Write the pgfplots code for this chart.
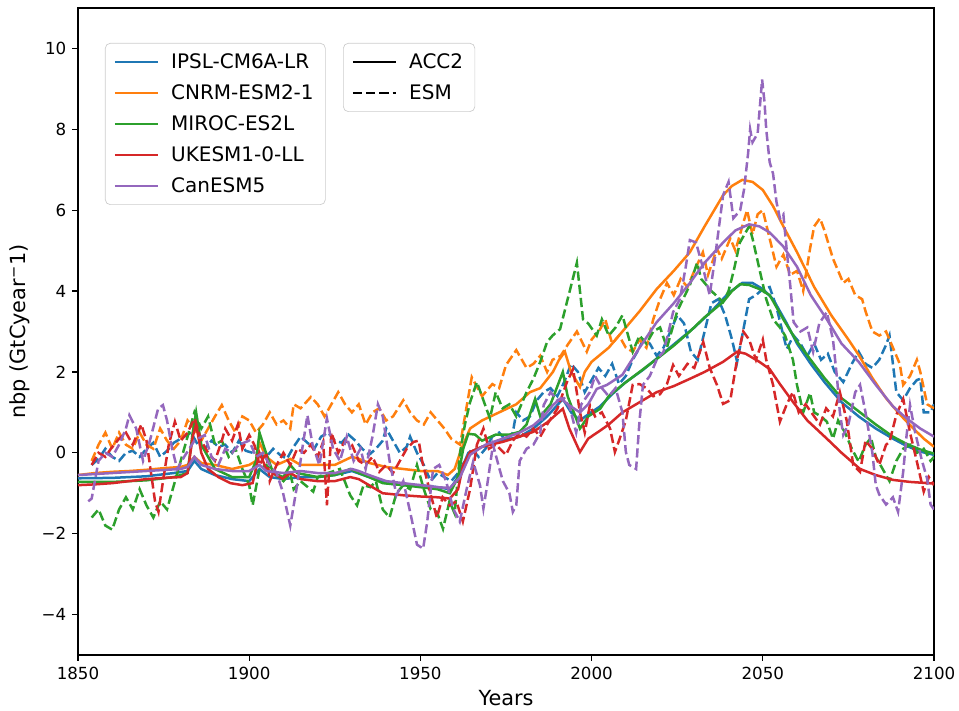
\documentclass[border=0pt]{standalone}
\usepackage{fontspec}
\setmainfont{DejaVu Sans}
\usepackage{pgfplots}
\pgfplotsset{compat=1.18}
\definecolor{c0}{HTML}{1F77B4}
\definecolor{c1}{HTML}{FF7F0E}
\definecolor{c2}{HTML}{2CA02C}
\definecolor{c3}{HTML}{D62728}
\definecolor{c4}{HTML}{9467BD}
\tikzset{esm/.style={line width=1.5pt, dash pattern=on 5.55pt off 2.4pt},
         acc/.style={line width=1.5pt, solid}}
\begin{document}
\begin{tikzpicture}
\begin{axis}[
  scale only axis, width=513.6pt, height=388.2pt,
  xmin=1850, xmax=2100, ymin=-5, ymax=11,
  xtick={1850,1900,1950,2000,2050,2100},
  ytick={-4,-2,0,2,4,6,8,10},
  yticklabels={−4,−2,0,2,4,6,8,10},
  /pgf/number format/set thousands separator={},
  /pgf/number format/assume math mode=true,
  tick label style={font=\fontsize{10}{12}\selectfont},
  tick align=outside, major tick length=3.5pt,
  xtick pos=bottom, ytick pos=left,
  axis line style={line width=0.8pt},
  every tick/.style={black, line width=0.8pt},
  xlabel={Years}, ylabel={nbp (GtCyear\textsuperscript{\char"2212}1)},
  label style={font=\fontsize{12.5}{15}\selectfont},
  legend image code/.code={\draw[#1] (0pt,0pt) -- (26pt,0pt); \path (0pt,0pt) (31pt,0pt);},
  legend style={at={(0.0315,0.946)}, anchor=north west, draw=black!20, rounded corners=3pt,
    font=\fontsize{12}{14.4}\selectfont, row sep=4.2pt, inner xsep=5pt, inner ysep=4pt},
  legend cell align=left,
]
% ---- IPSL-CM6A-LR ----
\addplot[c0, esm, forget plot] coordinates {
(1854,-0.3)(1856,-0.15)(1858,0.1)(1860,-0.1)(1862,-0.2)(1864,0.0)(1866,0.05)(1868,-0.1)(1870,0.1)(1872,0.25)(1874,-0.1)(1876,0.05)(1878,0.25)(1880,0.35)(1883,0.5)(1885,0.2)(1887,0.1)(1889,0.3)(1891,0.15)(1893,0.2)(1895,0.0)(1897,0.3)(1899,0.05)(1901,0.0)(1903,-0.05)(1905,-0.1)(1907,0.1)(1909,-0.05)(1911,-0.15)(1913,0.15)(1915,0.4)(1917,0.25)(1919,0.1)(1921,0.4)(1923,0.5)(1925,0.3)(1927,0.25)(1929,0.45)(1931,0.3)(1933,0.1)(1935,-0.05)(1937,0.1)(1939,0.3)(1940,0.6)(1942,0.3)(1944,0.0)(1946,0.15)(1947,0.4)(1949,0.0)(1951,-0.3)(1953,-0.7)(1955,-0.5)(1957,-0.6)(1959,-0.7)(1961,-0.5)(1963,-0.2)(1965,0.1)(1967,-0.1)(1969,0.1)(1971,0.4)(1973,0.5)(1975,0.3)(1977,0.5)(1978,1.0)(1980,0.8)(1982,0.9)(1984,1.3)(1986,1.5)(1988,1.6)(1990,1.4)(1992,1.75)(1994,2.2)(1996,2.0)(1998,1.5)(2000,1.8)(2002,2.1)(2004,1.9)(2006,2.2)(2008,1.7)(2010,1.9)(2012,2.3)(2014,2.6)(2015,2.8)(2017,2.7)(2019,2.4)(2021,2.6)(2023,3.0)(2025,3.4)(2027,3.2)(2029,2.5)(2031,2.3)(2033,3.0)(2035,3.7)(2037,3.8)(2039,3.4)(2041,2.8)(2042.5,2.25)(2044,2.9)(2046,3.8)(2048,3.9)(2050,4.05)(2052,4.1)(2054,3.6)(2056,2.9)(2057,2.57)(2059,2.9)(2061,2.7)(2063,2.4)(2065,2.7)(2067,2.3)(2069,2.45)(2071,2.0)(2073.5,1.75)(2076,2.2)(2078,2.5)(2080,2.2)(2082,2.1)(2084,2.3)(2086,2.67)(2087,2.9)(2089,1.5)(2091,1.3)(2093,1.6)(2095,1.8)(2096,1.83)(2097,1.0)(2099,1.0)(2100,1.2)};
\addplot[c0, acc, forget plot] coordinates {
(1850,-0.63)(1860,-0.62)(1870,-0.58)(1878,-0.5)(1882,-0.45)(1884,-0.2)(1886,-0.4)(1890,-0.55)(1895,-0.65)(1900,-0.7)(1903,-0.4)(1906,-0.6)(1910,-0.65)(1915,-0.6)(1920,-0.6)(1925,-0.55)(1930,-0.45)(1935,-0.6)(1940,-0.75)(1945,-0.8)(1950,-0.8)(1955,-0.85)(1958.6,-0.9)(1961,-0.6)(1964,0.0)(1968,0.15)(1974,0.3)(1979,0.4)(1983,0.6)(1987,0.9)(1991.6,1.33)(1994,1.0)(1996.6,0.8)(1999,0.95)(2002.5,1.15)(2006,1.45)(2010,1.75)(2015,2.05)(2020,2.4)(2025,2.75)(2030,3.1)(2035,3.5)(2040,3.95)(2044,4.2)(2047,4.2)(2050,4.05)(2053,3.8)(2057,3.2)(2060,2.7)(2064,2.2)(2068,1.75)(2073,1.25)(2078,0.9)(2083,0.6)(2088,0.35)(2092,0.17)(2096,0.03)(2100,-0.05)};
% ---- CNRM-ESM2-1 ----
\addplot[c1, esm, forget plot] coordinates {
(1854,-0.2)(1856,0.2)(1858,0.5)(1860,0.1)(1862,0.5)(1864,0.2)(1866,0.1)(1868,0.5)(1870,0.2)(1872,0.1)(1874,0.6)(1876,0.3)(1878,0.1)(1880,0.3)(1882,0.8)(1884,0.6)(1886,0.3)(1888,0.6)(1890,0.9)(1892,1.18)(1894,0.8)(1896,0.5)(1898,0.9)(1900,0.8)(1902,0.5)(1904,0.7)(1906,1.0)(1908,0.7)(1910,0.8)(1912,0.6)(1913,1.2)(1915,1.1)(1918,1.38)(1920,1.2)(1922,0.9)(1924,1.2)(1926,1.5)(1928,1.2)(1930,1.0)(1932,1.2)(1934,0.7)(1936,1.0)(1938,1.1)(1940,0.8)(1942,0.9)(1945,1.3)(1947,1.0)(1949,0.8)(1951,0.7)(1953,1.0)(1955,0.8)(1957,0.6)(1959,0.35)(1961.6,0.2)(1963,0.9)(1965,1.87)(1968,1.4)(1971,1.7)(1973,1.6)(1975,2.17)(1978,2.54)(1981,2.1)(1983,2.2)(1985,2.4)(1987,2.0)(1988.6,2.3)(1991,2.4)(1993,2.67)(1995.7,3.0)(1998.6,2.5)(2000,2.8)(2002.5,3.06)(2004,3.3)(2006,2.7)(2008,2.9)(2010,2.6)(2012,2.5)(2014,2.8)(2016,2.6)(2018,3.3)(2020,3.8)(2022,4.2)(2024,3.9)(2026,4.3)(2028,4.1)(2030,4.5)(2032.5,4.96)(2034,4.4)(2036.6,5.05)(2038,4.8)(2040.5,5.3)(2042,5.0)(2044,5.6)(2045.4,6.0)(2047,5.4)(2048.5,5.9)(2050,6.0)(2052,5.3)(2054,4.6)(2056,4.9)(2058,4.4)(2060,4.5)(2061.8,4.0)(2063.8,5.05)(2065,5.6)(2066.7,5.8)(2068,5.5)(2070.5,4.8)(2073.5,4.2)(2075,4.3)(2077,3.9)(2079,3.8)(2080,3.5)(2082,3.0)(2084,2.9)(2086,3.0)(2088,2.6)(2090,2.2)(2091,1.68)(2093,1.9)(2095,2.3)(2096,2.0)(2098,1.2)(2100,1.1)};
\addplot[c1, acc, forget plot] coordinates {
(1850,-0.55)(1855,-0.5)(1860,-0.47)(1865,-0.45)(1870,-0.42)(1875,-0.38)(1880,-0.35)(1882,-0.3)(1884,-0.1)(1886,-0.25)(1890,-0.3)(1895,-0.4)(1900,-0.3)(1902,-0.2)(1903,0.25)(1905,-0.1)(1908,-0.3)(1912,-0.15)(1915,-0.3)(1920,-0.3)(1925,-0.3)(1930,-0.1)(1932,-0.15)(1935,-0.25)(1940,-0.35)(1945,-0.4)(1950,-0.45)(1955,-0.45)(1958,-0.55)(1960,-0.4)(1962,0.1)(1964.5,0.6)(1968,0.8)(1973,1.0)(1978,1.2)(1982,1.5)(1985,1.6)(1988.7,2.0)(1990.5,2.3)(1992.2,2.5)(1994,2.0)(1996.6,1.63)(1998,2.0)(2000,2.25)(2005,2.6)(2009,3.0)(2014,3.5)(2019,4.05)(2024,4.5)(2028.7,4.96)(2033,5.6)(2038.4,6.37)(2041,6.6)(2044,6.75)(2047,6.7)(2050,6.5)(2053,6.1)(2056,5.6)(2060,4.96)(2065,4.1)(2070,3.4)(2075,2.8)(2078,2.42)(2082,1.85)(2086,1.35)(2090,0.95)(2094,0.6)(2097,0.35)(2100,0.15)};
% ---- MIROC-ES2L ----
\addplot[c2, esm, forget plot] coordinates {
(1854,-1.6)(1856,-1.4)(1858,-1.8)(1860,-1.9)(1862,-1.4)(1864,-1.1)(1866,-1.4)(1868,-0.9)(1870,-1.3)(1872,-1.6)(1874,-1.2)(1876,-1.4)(1878,-0.8)(1880,-0.2)(1882,0.4)(1884,1.0)(1886,0.6)(1888,0.9)(1890,0.2)(1892,0.3)(1894,-0.1)(1896,0.1)(1898,-0.4)(1900,-0.8)(1901,-1.3)(1903,-0.4)(1905,-0.3)(1907,-0.5)(1910,-0.7)(1912,-0.5)(1913,-0.9)(1915,-0.7)(1918.7,-0.96)(1920,-0.6)(1923,-0.5)(1926.5,-0.4)(1929.5,-1.05)(1931.5,-1.3)(1933.4,-0.8)(1935.4,-0.85)(1937,-0.7)(1939,-1.4)(1941,-1.6)(1943,-1.0)(1945,-0.8)(1947,-0.9)(1949,-0.3)(1951,-0.9)(1953,-1.4)(1954.8,-1.46)(1956.6,-1.88)(1958.5,-1.2)(1960,-1.5)(1961.6,0.02)(1963,0.7)(1964.5,1.25)(1966.5,1.75)(1968.4,1.3)(1970.3,0.85)(1972,1.5)(1974,1.1)(1976,1.2)(1978,0.9)(1981,1.5)(1983,1.83)(1985,2.25)(1987,2.74)(1988.6,2.9)(1990.8,3.06)(1992.8,3.73)(1995.7,4.7)(1997.5,3.3)(1999,3.2)(2001.5,2.9)(2003,3.3)(2005,2.9)(2007,3.1)(2009,3.4)(2012,2.5)(2014,2.9)(2016,2.7)(2018,3.0)(2020,3.1)(2022,2.6)(2025,3.5)(2028.7,4.15)(2030.8,4.7)(2032,4.3)(2035,4.0)(2038.4,3.73)(2040,4.0)(2041.5,4.5)(2043.3,5.2)(2046,5.6)(2047,5.3)(2049,4.55)(2051,3.8)(2053,3.3)(2055,3.1)(2056.5,2.9)(2058.8,2.3)(2060,1.67)(2061.8,1.0)(2063.8,1.48)(2065,1.0)(2067,0.9)(2068.7,0.77)(2070.5,0.35)(2072,0.8)(2074,0.5)(2076,0.1)(2078,-0.22)(2080,0.2)(2081.6,0.37)(2083,-0.1)(2085,-0.4)(2087,-0.7)(2089,-0.2)(2091,0.1)(2093,0.2)(2095,0.0)(2097,0.1)(2099,-0.2)(2100,-0.1)};
\addplot[c2, acc, forget plot] coordinates {
(1850,-0.72)(1860,-0.72)(1870,-0.68)(1878,-0.6)(1882,-0.5)(1883.5,0.5)(1884.5,1.0)(1886,0.2)(1888,-0.1)(1890,-0.4)(1895,-0.6)(1900,-0.6)(1902,-0.2)(1903,0.5)(1904.5,0.1)(1907,-0.5)(1910,-0.6)(1912,-0.3)(1914,-0.5)(1920,-0.6)(1925,-0.55)(1929.5,-0.4)(1932,-0.5)(1935,-0.6)(1939,-0.75)(1945,-0.8)(1950,-0.85)(1955,-0.9)(1958.6,-1.0)(1961,-0.6)(1962.5,0.1)(1964,0.47)(1966,0.45)(1968,0.3)(1972,0.45)(1976,0.45)(1979,0.52)(1981,0.7)(1983.5,1.33)(1985,0.9)(1988,1.2)(1991.6,2.0)(1993,1.4)(1996.6,0.6)(1999,0.9)(2002.5,1.09)(2005,1.4)(2009,1.68)(2014,2.0)(2019,2.32)(2024,2.65)(2028.7,3.0)(2033,3.35)(2038.4,3.73)(2041,4.0)(2043.3,4.17)(2046,4.15)(2049,4.05)(2052,3.9)(2056,3.3)(2060,2.75)(2063.8,2.32)(2068,1.85)(2073,1.35)(2078.4,1.0)(2083,0.7)(2088,0.4)(2092,0.22)(2096,0.08)(2100,-0.02)};
% ---- UKESM1-0-LL ----
\addplot[c3, esm, forget plot] coordinates {
(1854,-0.3)(1856,0.0)(1858,-0.1)(1859.6,0.1)(1862,0.35)(1864,0.5)(1866,0.2)(1868.5,0.7)(1870,0.3)(1872.5,-1.2)(1873.5,-1.46)(1875,-0.6)(1876.5,0.2)(1878.3,0.77)(1880,0.3)(1882,0.5)(1884,0.85)(1886,0.3)(1888,0.0)(1890,-0.2)(1892,0.3)(1893,0.6)(1895,0.3)(1896.7,0.7)(1898,0.1)(1900,0.44)(1901.5,0.2)(1903,-0.3)(1905,0.0)(1906,-0.7)(1908,-0.3)(1910,0.0)(1912,-0.3)(1914,0.1)(1916,0.0)(1918,0.2)(1920,-0.1)(1921.6,0.27)(1922.7,-1.3)(1924,0.5)(1926,0.0)(1928,0.3)(1930,0.2)(1932,-0.2)(1934,-0.3)(1936,-0.1)(1938,-0.47)(1940,-0.3)(1942,-0.5)(1944,-0.2)(1946,0.1)(1948,0.27)(1949.5,0.3)(1950.5,-0.2)(1952.8,-0.96)(1954.8,-1.6)(1956.5,-1.1)(1958.5,-1.3)(1960.5,-1.2)(1962.4,-1.7)(1964.5,-0.9)(1966.5,0.2)(1968.4,0.6)(1970,0.1)(1972,0.2)(1975,-0.05)(1977,0.3)(1979,0.5)(1981,0.4)(1983,0.6)(1985,0.4)(1987,0.7)(1990,1.09)(1992.8,1.75)(1994.6,2.07)(1996.6,1.0)(1998,0.5)(1999.5,1.18)(2001,0.9)(2003,1.0)(2005.4,0.6)(2006.8,0.02)(2008,0.3)(2010,0.8)(2012,1.68)(2014,1.7)(2016,1.6)(2018,1.4)(2020,1.45)(2022,1.7)(2023.8,2.17)(2025.5,1.9)(2028,2.2)(2030,2.1)(2032.6,2.74)(2034.5,2.1)(2036.6,1.68)(2038.4,1.21)(2040.5,1.3)(2042.5,2.32)(2044.3,3.0)(2046,2.8)(2048,2.3)(2050,2.8)(2051,2.3)(2053,1.68)(2055,0.77)(2057,1.2)(2058.8,1.5)(2060.5,1.0)(2062.5,1.2)(2065,0.9)(2066.7,0.7)(2068.5,1.1)(2070.5,0.9)(2072.5,1.5)(2074.5,0.8)(2076.4,-0.3)(2078.4,-0.47)(2080,0.3)(2082,0.1)(2084,-0.3)(2086,0.2)(2087,0.27)(2089,0.94)(2091,1.33)(2093,0.5)(2095,-0.22)(2097,-0.96)(2098.5,-0.6)(2100,-0.8)};
\addplot[c3, acc, forget plot] coordinates {
(1850,-0.8)(1855,-0.78)(1860,-0.75)(1865,-0.7)(1870,-0.65)(1875,-0.62)(1880,-0.6)(1882,-0.5)(1883.5,0.4)(1884.5,0.7)(1886,0.0)(1888,-0.4)(1891,-0.6)(1894.5,-0.75)(1898,-0.8)(1901,-0.75)(1903,0.0)(1905,-0.4)(1909.7,-0.64)(1912,-0.5)(1915,-0.65)(1920,-0.7)(1925,-0.7)(1929.5,-0.6)(1932,-0.65)(1935,-0.8)(1939,-1.0)(1945,-1.05)(1950,-1.08)(1955,-1.1)(1958.6,-1.13)(1961,-0.9)(1962.5,-0.3)(1964.5,0.02)(1968,0.15)(1974,0.27)(1979,0.4)(1983,0.52)(1987,0.75)(1991.6,1.09)(1993.5,0.6)(1996.6,0.02)(1999,0.35)(2002.5,0.55)(2005,0.7)(2009,1.0)(2014,1.25)(2019,1.5)(2024,1.65)(2028.7,1.83)(2033,2.0)(2038.4,2.25)(2042.5,2.5)(2045,2.45)(2049,2.25)(2052,2.07)(2055,1.7)(2058.8,1.26)(2063,0.8)(2068.7,0.35)(2073,0.0)(2078.4,-0.4)(2083,-0.55)(2088,-0.67)(2093,-0.72)(2100,-0.76)};
% ---- CanESM5 ----
\addplot[c4, esm, forget plot] coordinates {
(1853,-1.2)(1854,-1.13)(1856,-0.2)(1858,0.0)(1860,-0.1)(1862,0.2)(1864,0.6)(1865,0.93)(1867,0.6)(1869,-0.2)(1871,0.3)(1873.4,1.09)(1874.8,1.18)(1876,0.8)(1877.5,0.1)(1879,-0.4)(1881,-0.1)(1884,0.3)(1887,0.44)(1889,-0.1)(1891,-0.3)(1893,0.1)(1895,0.0)(1897,0.2)(1900,0.3)(1902,-0.1)(1904,0.0)(1906,-0.3)(1908,-0.5)(1909.8,-0.96)(1912,-1.8)(1914,-0.8)(1915.5,0.1)(1917,0.93)(1918.5,0.2)(1920.5,-0.3)(1922.7,0.85)(1924.5,0.1)(1926.5,-0.2)(1928.5,0.4)(1930.5,-0.2)(1932.5,0.1)(1934,-0.4)(1936,0.4)(1937.6,1.2)(1939,0.9)(1941,-0.2)(1943,-1.05)(1945,-0.7)(1947,-1.46)(1949,-2.27)(1950.8,-2.37)(1952,-1.7)(1953.7,-0.4)(1955.5,-0.3)(1957.5,-0.7)(1959.6,-1.38)(1961.5,-1.7)(1963.5,-0.9)(1965.4,-0.22)(1967.4,-0.8)(1968.4,-1.38)(1969.5,-0.8)(1971.2,0.2)(1973.1,-0.4)(1974.1,-0.7)(1976,-1.0)(1977,-1.46)(1978,-1.3)(1979,-0.2)(1981,0.1)(1983,0.2)(1985,0.5)(1986,1.18)(1988,1.5)(1990,1.3)(1992,1.35)(1993.7,1.1)(1995.5,0.5)(1997,1.2)(1999.5,1.5)(2001,1.9)(2003,1.6)(2005,1.4)(2007,1.6)(2009,1.0)(2010,0.02)(2011,-0.3)(2013,-0.4)(2014,0.8)(2015,1.68)(2017,1.9)(2019,2.3)(2021,2.5)(2022.5,3.0)(2023.8,3.48)(2025.8,3.8)(2027.5,4.6)(2028.7,5.26)(2030.5,5.2)(2032.6,4.55)(2034.5,3.9)(2036,4.8)(2038.4,6.37)(2040,6.7)(2041.4,5.8)(2043.4,6.0)(2044.5,6.5)(2045.7,7.4)(2046.3,8.0)(2047,7.68)(2048.5,7.9)(2049.8,9.23)(2050.5,8.67)(2051,8.0)(2052,7.19)(2053,6.9)(2054,6.2)(2055,5.8)(2056,5.9)(2057,5.0)(2058,4.15)(2059,3.23)(2061,3.0)(2063,3.1)(2064.7,2.5)(2066.5,3.2)(2068.7,3.48)(2070.5,2.8)(2071.7,1.83)(2072.5,1.0)(2073.5,0.44)(2075,0.7)(2077,1.5)(2078.4,1.68)(2080,1.0)(2082,0.0)(2083,-0.8)(2084,-1.03)(2086,-1.28)(2088,-1.1)(2089.5,-1.46)(2091,-0.47)(2092,0.44)(2093,1.18)(2094.5,0.5)(2096.5,-0.2)(2098,-0.64)(2099,-1.28)(2100,-1.4)};
\addplot[c4, acc, forget plot] coordinates {
(1850,-0.55)(1860,-0.5)(1870,-0.45)(1880,-0.4)(1882,-0.35)(1884,-0.1)(1886,-0.3)(1890,-0.4)(1895,-0.45)(1900,-0.45)(1903,-0.3)(1905,-0.45)(1910,-0.5)(1915,-0.45)(1920,-0.5)(1925,-0.5)(1930,-0.4)(1932,-0.45)(1935,-0.55)(1940,-0.7)(1945,-0.75)(1950,-0.8)(1955,-0.85)(1958.6,-0.87)(1961.6,-0.6)(1964.5,-0.05)(1969,0.2)(1974,0.35)(1979,0.5)(1983,0.68)(1986,0.9)(1988.7,1.18)(1991,1.35)(1993,1.2)(1996.6,1.0)(1999,1.2)(2001.5,1.58)(2004.5,1.68)(2009,1.93)(2014,2.6)(2019,3.23)(2024,3.7)(2028.7,4.2)(2033,4.7)(2038.4,5.2)(2042,5.5)(2046,5.65)(2049,5.6)(2052,5.45)(2056,5.1)(2060,4.6)(2064,3.9)(2068.7,3.3)(2073,2.7)(2078,2.25)(2083,1.68)(2088,1.15)(2092,0.85)(2096,0.6)(2100,0.4)};
% legend 1
\addlegendimage{c0, acc}\addlegendentry{IPSL-CM6A-LR}
\addlegendimage{c1, acc}\addlegendentry{CNRM-ESM2-1}
\addlegendimage{c2, acc}\addlegendentry{MIROC-ES2L}
\addlegendimage{c3, acc}\addlegendentry{UKESM1-0-LL}
\addlegendimage{c4, acc}\addlegendentry{CanESM5}
\end{axis}
\begin{axis}[
  scale only axis, width=513.6pt, height=388.2pt,
  xmin=0, xmax=1, ymin=0, ymax=1, hide axis,
  legend image code/.code={\draw[#1] (0pt,0pt) -- (26pt,0pt); \path (0pt,0pt) (31pt,0pt);},
  legend style={at={(0.3096,0.946)}, anchor=north west, draw=black!20, rounded corners=3pt,
    font=\fontsize{12}{14.4}\selectfont, row sep=4.2pt, inner xsep=5pt, inner ysep=4pt},
  legend cell align=left,
]
\addplot[draw=none, forget plot] coordinates {(0.5,0.5)};
\addlegendimage{black, acc}\addlegendentry{ACC2}
\addlegendimage{black, esm}\addlegendentry{ESM}
\end{axis}
\pgfresetboundingbox
\path[use as bounding box] (-46.8pt,-33pt) rectangle (528.6pt,393pt);
\end{tikzpicture}
\end{document}
